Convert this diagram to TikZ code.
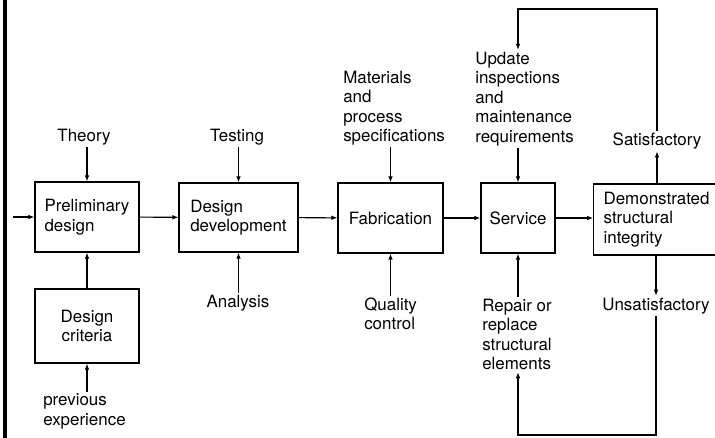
\documentclass[tikz,border=0pt]{standalone}
\usepackage{fontspec}
\setmainfont{TeX Gyre Heros}
\usepackage{tikz}
\usetikzlibrary{arrows.meta}
\tikzstyle{chart} = [x = 0.75pt, y = -0.75pt, font = \chartFont]
\tikzstyle{boxStyle} = [draw, line width = 0.9pt, align = left, inner sep = 0pt]
\tikzstyle{labelText} = [align = left, inner sep = 1.5pt]
\tikzstyle{flowLine} = [line width = 0.8pt, -{Latex[length = 4.5pt, width = 3.5pt]}]
\newcommand{\chartFont}{\fontsize{12.7}{14.6}\selectfont}
\newcommand{\px}{0.75pt}

\begin{document}
\begin{tikzpicture}[chart]
  \useasboundingbox (0,0) rectangle (715,438);
  \clip (0,0) rectangle (715,438);
  \fill (3,0) rectangle (7,438);

  % main chain
  \node [boxStyle, minimum width = 104*\px, minimum height = 70*\px] (prelim) at (87,217) {Preliminary\\design};
  \node [boxStyle, align = center, minimum width = 104*\px, minimum height = 74*\px] (crit) at (87,326) {Design\\criteria};
  \node [boxStyle, minimum width = 119*\px, minimum height = 69*\px] (devel) at (238.5,217.5) {Design\\development};
  \node [boxStyle, minimum width = 105*\px, minimum height = 70*\px] (fab) at (390.5,218) {Fabrication};
  \node [boxStyle, minimum width = 74*\px, minimum height = 70*\px] (serv) at (518,218) {Service};
  \node [boxStyle, anchor = west, inner xsep = 10*\px, text width = 130*\px, minimum height = 71*\px] (demo) at (593,219.5) {Demonstrated\\structural\\integrity};

  % inputs and outcomes
  \node [labelText] (theory) at (84,137) {Theory};
  \node [labelText] (testing) at (237,137) {Testing};
  \node [labelText, anchor = west] (spec) at (341,108) {Materials\\and\\process\\specifications};
  \node [labelText, anchor = west] (update) at (473,99) {Update\\inspections\\and\\maintenance\\requirements};
  \node [labelText] (sat) at (657,141) {Satisfactory};
  \node [labelText] (analysis) at (238,303) {Analysis};
  \node [labelText, anchor = west] (qc) at (362,314) {Quality\\control};
  \node [labelText, anchor = west] (repair) at (480,334.5) {Repair or\\replace\\structural\\elements};
  \node [labelText] (unsat) at (656,306) {Unsatisfactory};
  \node [labelText, anchor = west] (prev) at (41,411.5) {previous\\experience};

  \coordinate (entry) at (13,217);
  \coordinate (topTurn) at (0,9);
  \coordinate (bottomTurn) at (0,435);

  \draw [flowLine] (entry) -- (prelim);
  \draw [flowLine] (prelim) -- (devel);
  \draw [flowLine] (devel) -- (fab);
  \draw [flowLine] (fab) -- (serv);
  \draw [flowLine] (serv.east) -- (serv.east -| demo.west);

  \draw [flowLine] (theory.south -| prelim) -- (prelim);
  \draw [flowLine] (testing.south -| devel) -- (devel);
  \draw [flowLine] (spec.south -| fab) -- (fab);
  \draw [flowLine] (update.south -| serv) -- (serv);
  \draw [flowLine] (analysis.north -| devel) -- (devel);
  \draw [flowLine] (qc.north -| fab) -- (fab);
  \draw [flowLine] (repair.north -| serv) -- (serv);
  \draw [flowLine] (crit) -- (prelim);
  \draw [flowLine] (prev.north -| crit) -- (crit);
  \draw [flowLine] (demo.north -| sat) -- (sat);
  \draw [flowLine] (demo.south -| unsat) -- (unsat);

  % feedback loops
  \draw [flowLine] (sat) -- (sat |- topTurn) -| (update.north -| serv);
  \draw [flowLine] (unsat) -- (unsat |- bottomTurn) -| (repair.south -| serv);
\end{tikzpicture}
\end{document}
